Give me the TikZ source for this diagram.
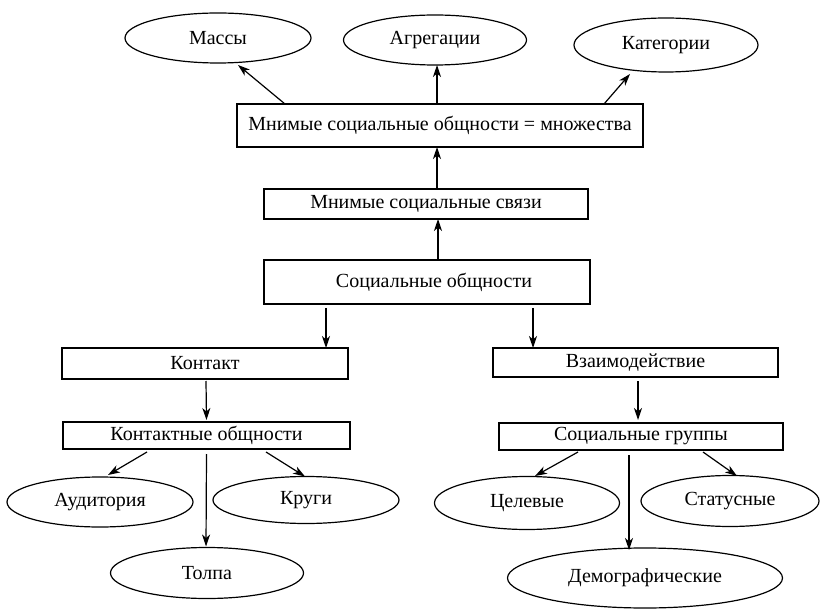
\documentclass[tikz,border=0pt]{standalone}
\usepackage{fontspec}
\setmainfont{Liberation Serif}
\usetikzlibrary{shapes.geometric,arrows.meta,calc}
\begin{document}
\begin{tikzpicture}[x=1pt,y=-1pt,
  font=\fontsize{20}{23}\selectfont,
  every node/.style={inner sep=0pt,outer sep=0pt},
  box/.style={draw,line width=1.2pt,rectangle,minimum width=#1},
  oval/.style={draw,line width=1.2pt,ellipse},
  arr/.style={line width=1.2pt,-{Stealth[length=12pt,width=8pt,inset=3.5pt]}}]
\useasboundingbox (0,0) rectangle (821,609);

% upper level: imaginary communities
\node[oval,minimum width=186,minimum height=50] (massy) at (218,38) {Массы};
\node[oval,minimum width=183,minimum height=50] (agreg) at (435,40) {Агрегации};
\node[oval,minimum width=184,minimum height=54] (kateg) at (666,45) {Категории};

\node[box=406,minimum height=43] (b1) at (440,125.5) {Мнимые социальные общности = множества};
\node[box=324,minimum height=30] (b2) at (426,204) {Мнимые социальные связи};
\node[box=326,minimum height=44] (b3) at (427,282) {\hspace*{14pt}Социальные общности};

% left branch
\node[box=286,minimum height=31] (kont) at (205,363.5) {Контакт};
\node[box=287,minimum height=27] (kobsh) at (206.5,435.5) {Контактные общности};
\node[oval,minimum width=186,minimum height=50] (aud) at (100,502) {Аудитория};
\node[oval,minimum width=186,minimum height=47] (krugi) at (306,500) {Круги};
\node[oval,minimum width=193,minimum height=51] (tolpa) at (207,573) {Толпа};

% right branch
\node[box=285,minimum height=29] (vzaim) at (635.5,362.5) {Взаимодействие};
\node[box=284,minimum height=27] (sgr) at (641,436.5) {Социальные группы};
\node[oval,minimum width=185,minimum height=53] (tsel) at (527,503) {Целевые};
\node[oval,minimum width=178,minimum height=51] (stat) at (730,501) {Статусные};
\node[oval,minimum width=275,minimum height=60] (demo) at (645,578) {Демографические};

% connectors
\draw[arr] ($(b1.north west)+(48,0)$) -- ($(massy.center)+(20,27)$);
\draw[arr] ($(b1.north west)+(200,0)$) -- ($(agreg.center)+(2,25)$);
\draw[arr] ($(b1.north west)+(367,0)$) -- ($(kateg.center)+(-36,29)$);
\draw[arr] ($(b2.north west)+(173,0)$) -- ($(b1.south west)+(200,0)$);
\draw[arr] ($(b3.north west)+(174,0)$) -- ($(b2.south west)+(174,0)$);
\draw[arr] ($(b3.south west)+(62,4)$) -- ($(kont.north east)+(-22,0)$);
\draw[arr] ($(b3.south west)+(269,4)$) -- ($(vzaim.north west)+(40,0)$);

\draw[arr] ($(kont.south)+(1,2)$) -- ($(kobsh.north)+(0,-2)$);
\draw[arr] ($(kobsh.south west)+(84,3)$) -- ($(aud.center)+(8,-27)$);
\draw[arr] ($(kobsh.south)+(0,5)$) -- ($(tolpa.north)+(-1,-1)$);
\draw[arr] ($(kobsh.south west)+(203,3)$) -- ($(krugi.north)+(-1,0)$);

\draw[arr] ($(vzaim.south)+(2.5,4)$) -- ($(sgr.north)+(-3,-3)$);
\draw[arr] ($(sgr.south west)+(79,2)$) -- ($(tsel.center)+(8,-27)$);
\draw[arr] ($(sgr.south west)+(130,5)$) -- ($(demo.north)+(-16,2)$);
\draw[arr] ($(sgr.south west)+(204,2)$) -- ($(stat.center)+(7,-25)$);
\end{tikzpicture}
\end{document}
